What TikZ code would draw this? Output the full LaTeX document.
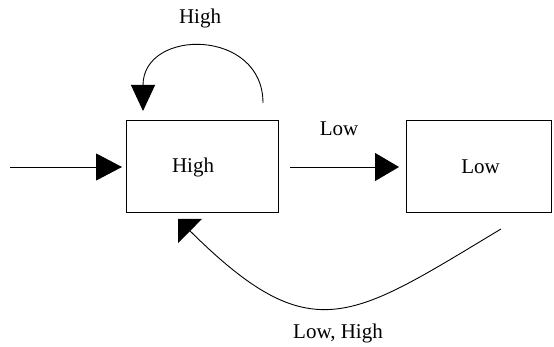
\documentclass[tikz,border=0pt]{standalone}
\usepackage{fontspec}
\setmainfont{Liberation Serif}
\usetikzlibrary{arrows.meta}
\begin{document}
\begin{tikzpicture}[x=1pt,y=-1pt,
  statebox/.style={draw=black,line width=1pt,rectangle,minimum width=152pt,minimum height=92pt,inner sep=0pt},
  lbl/.style={font=\fontsize{21}{25}\selectfont,inner sep=0pt},
  conn/.style={draw=black,line width=0.9pt},
  bigtip/.style={-{Triangle[length=26pt,width=27pt]}},
  widetip/.style={-{Triangle[length=17pt,width=34pt]}}]
\useasboundingbox[fill=white] (0,0) rectangle (554,347);
% states
\node[statebox,label={[lbl,xshift=-9pt]center:High}] (high) at (202,167) {};
\node[statebox,minimum width=145pt,label={[lbl,xshift=2pt]center:Low}] (low) at (478.5,167) {};
% free ends
\coordinate (start) at (10,167);
\coordinate (entry) at (122,167);
\coordinate (midstart) at (290,167);
\coordinate (midend) at (399,167);
\coordinate (loopstart) at (263,103);
\coordinate (looptip) at (143,111);
\coordinate (backstart) at (501,229);
\coordinate (backtip) at (178,219);
% connectors
\draw[conn,bigtip] (start) -- (entry);
\draw[conn,-{Triangle[length=24pt,width=28pt]}] (midstart) -- (midend);
\draw[conn,-{Triangle[length=26pt,width=24pt]}] (loopstart) .. controls (263,28) and (143,28) .. (looptip);
\draw[conn,widetip] (backstart) .. controls (351,319) and (312,352) .. (backtip);
% labels
\node[lbl] (lhigh) at (200,18) {High};
\node[lbl] (llow) at (339,129) {Low};
\node[lbl] (lboth) at (338,333) {Low, High};
\end{tikzpicture}
\end{document}
